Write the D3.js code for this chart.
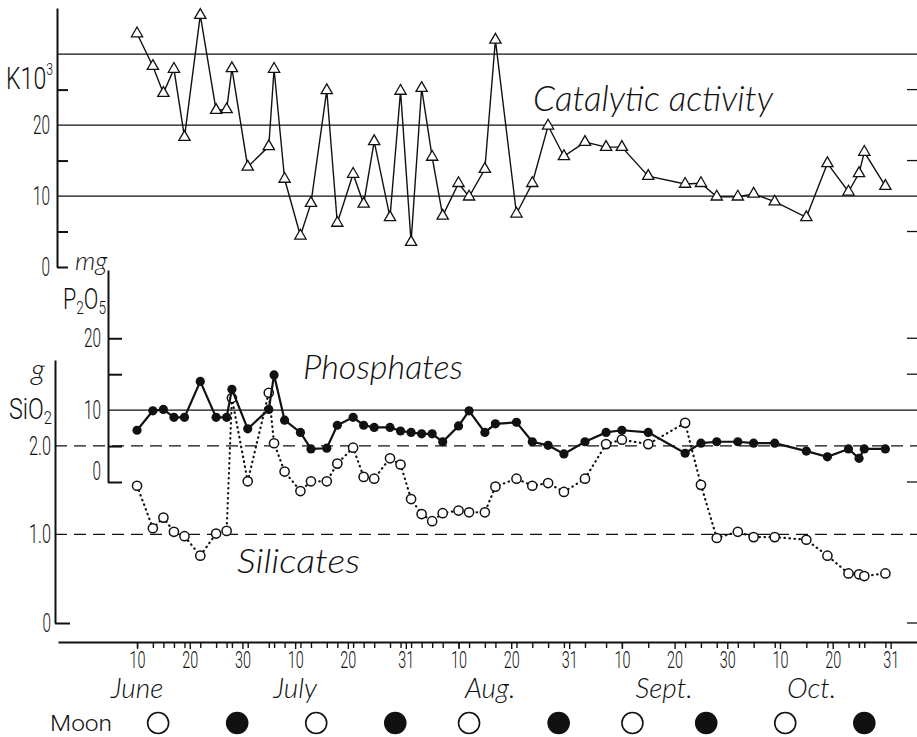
<!DOCTYPE html>
<html>
<head>
<meta charset="utf-8">
<script src="https://cdn.jsdelivr.net/npm/d3@7"></script>
<style>
  body { margin: 0; background: #fff; }
  svg { display: block; }
  .num { font-family: Roboto, "DejaVu Sans Condensed", sans-serif; font-weight: 300; fill: #111; }
  .script { font-family: Lato, "Open Sans", sans-serif; font-style: italic; font-weight: 300; fill: #111; }
</style>
</head>
<body>
<div id="wrapper"></div>
<script>
/* global d3 */

// sampling days (month-day), shared by the three series
const sampleDates = [
  "06-10", "06-13", "06-15", "06-17", "06-19", "06-22", "06-25", "06-27", "06-28", "07-01",
  "07-05", "07-06", "07-08", "07-11", "07-13", "07-16", "07-18", "07-21", "07-23", "07-25",
  "07-28", "07-30", "08-01", "08-03", "08-05", "08-07", "08-10", "08-12", "08-15", "08-17",
  "08-21", "08-24", "08-27", "08-30", "09-03", "09-07", "09-10", "09-15", "09-22", "09-25",
  "09-28", "10-02", "10-05", "10-09", "10-15", "10-19", "10-23", "10-25", "10-26", "10-30",
];

// catalytic activity, K·10³
const catalytic = [
  32.9, 28.3, 24.5, 27.9, 18.3, 35.5, 22.1, 22.2, 28.0, 14.1,
  17.0, 27.9, 12.4, 4.4, 9.0, 24.9, 6.2, 13.1, 8.9, 17.7,
  7.0, 24.8, 3.5, 25.2, 15.5, 7.2, 11.8, 9.9, 13.8, 32.0,
  7.5, 11.8, 19.9, 15.6, 17.6, 16.9, 16.9, 12.8, 11.7, 11.8,
  9.9, 9.9, 10.3, 9.2, 7.0, 14.6, 10.6, 13.2, 16.2, 11.4,
];

// phosphates, mg P2O5
const phosphates = [
  7.2, 9.9, 10.1, 9.0, 9.0, 14.0, 9.0, 9.0, 12.9, 7.4,
  10.1, 14.9, 8.6, 6.9, 4.6, 4.7, 7.9, 9.0, 7.9, 7.6,
  7.6, 7.1, 6.9, 6.7, 6.7, 5.6, 7.8, 9.9, 6.9, 8.1,
  8.3, 5.6, 5.1, 3.9, 5.6, 6.9, 7.2, 6.9, 4.0, 5.4,
  5.6, 5.6, 5.4, 5.4, 4.3, 3.5, 4.6, 3.3, 4.6, 4.6,
];

// silicates, g SiO2
const silicates = [
  1.55, 1.07, 1.19, 1.03, 0.98, 0.76, 1.01, 1.04, 2.54, 1.60,
  2.60, 2.03, 1.71, 1.49, 1.60, 1.60, 1.80, 1.98, 1.65, 1.63,
  1.86, 1.79, 1.40, 1.23, 1.15, 1.24, 1.27, 1.25, 1.25, 1.54,
  1.63, 1.55, 1.58, 1.48, 1.63, 2.02, 2.07, 2.02, 2.26, 1.56,
  0.96, 1.03, 0.97, 0.97, 0.94, 0.76, 0.56, 0.55, 0.53, 0.56,
];

const fullMoons = ["06-14", "07-14", "08-12", "09-12", "10-11"];
const newMoons = ["06-29", "07-29", "08-29", "09-26", "10-26"];

const dayTicks = [
  "06-10", "06-20", "06-30", "07-10", "07-20", "07-31", "08-10", "08-20",
  "08-31", "09-10", "09-20", "09-30", "10-10", "10-20", "10-31",
];
const months = ["June", "July", "Aug.", "Sept.", "Oct."];
const monthCentres = ["06-10", "07-10", "08-16", "09-18", "10-16"];

const kLabels = [0, 10, 20];
const kMinor = [0, 5, 15, 25];
const kGrid = [10, 20, 30];
const pLabels = [0, 10, 20];
const pMinor = [0, 5, 15, 20];
const pGrid = [10];
const sLabels = [0, 1, 2];
const sGrid = [1, 2];

const drawChart = () => {
  const parseDay = d3.timeParse("%m-%d");
  const dimensions = {
    width: 917,
    height: 737,
    kAxis: 57,
    pAxis: 108,
    sAxis: 55,
    right: 917,
    xAxisY: 642,
    moonY: 723,
  };

  const rows = sampleDates.map((d, i) => ({
    date: parseDay(d),
    k: catalytic[i],
    p: phosphates[i],
    s: silicates[i],
  }));

  const xScale = d3
    .scaleTime()
    .domain([parseDay("05-26"), parseDay("11-05")])
    .range([58, dimensions.right]);
  const kScale = d3.scaleLinear().domain([0, 36.5]).range([267, 8]);
  const pScale = d3.scaleLinear().domain([0, 29.5]).range([482, 270]);
  const sScale = d3.scaleLinear().domain([0, 2.97]).range([623, 360]);

  const wrapper = d3
    .select("#wrapper")
    .append("svg")
    .attr("width", dimensions.width)
    .attr("height", dimensions.height);

  const ink = "#111";

  // condensed tick numbers
  const squeeze = (sel, perChar, size) =>
    sel
      .attr("class", "num")
      .style("font-size", `${size}px`)
      .attr("textLength", function () {
        const t = this.textContent;
        return t.replace(".", "").length * perChar + (t.includes(".") ? 5 : 0);
      })
      .attr("lengthAdjust", "spacingAndGlyphs");

  // ---- grid lines
  wrapper
    .append("g")
    .selectAll("line")
    .data(kGrid)
    .join("line")
    .attr("x1", dimensions.kAxis)
    .attr("x2", dimensions.right)
    .attr("y1", (d) => kScale(d))
    .attr("y2", (d) => kScale(d))
    .attr("stroke", ink)
    .attr("stroke-width", 1.3);

  wrapper
    .append("g")
    .selectAll("line")
    .data(pGrid)
    .join("line")
    .attr("x1", dimensions.pAxis)
    .attr("x2", dimensions.right)
    .attr("y1", (d) => pScale(d))
    .attr("y2", (d) => pScale(d))
    .attr("stroke", ink)
    .attr("stroke-width", 1.3);

  wrapper
    .append("g")
    .selectAll("line")
    .data(sGrid)
    .join("line")
    .attr("x1", dimensions.sAxis)
    .attr("x2", dimensions.right)
    .attr("y1", (d) => sScale(d))
    .attr("y2", (d) => sScale(d))
    .attr("stroke", ink)
    .attr("stroke-width", 1.3)
    .attr("stroke-dasharray", "12,7");

  // right-hand edge ticks
  const edgeTicks = [
    ...[5, 15, 25].map((v) => kScale(v)),
    ...[0, 15, 20].map((v) => pScale(v)),
    sScale(0),
  ];
  wrapper
    .append("g")
    .selectAll("line")
    .data(edgeTicks)
    .join("line")
    .attr("x1", dimensions.right - 10)
    .attr("x2", dimensions.right)
    .attr("y1", (d) => d)
    .attr("y2", (d) => d)
    .attr("stroke", ink)
    .attr("stroke-width", 1.3);

  // ---- vertical axes
  const styleAxis = (g, w) => {
    g.selectAll("path, line").attr("stroke", ink).attr("stroke-width", w);
    g.selectAll("text").remove();
  };

  wrapper
    .append("g")
    .attr("transform", `translate(${dimensions.kAxis},0)`)
    .call(d3.axisRight(kScale).tickValues(kMinor).tickSize(11).tickSizeOuter(0))
    .call(styleAxis, 2);

  wrapper
    .append("g")
    .attr("transform", `translate(${dimensions.pAxis},0)`)
    .call(d3.axisRight(pScale).tickValues(pMinor).tickSize(14).tickSizeOuter(0))
    .call(styleAxis, 2);

  wrapper
    .append("g")
    .attr("transform", `translate(${dimensions.sAxis},0)`)
    .call(d3.axisRight(sScale).tickValues([0]).tickSize(15).tickSizeOuter(0))
    .call(styleAxis, 2);

  // tick labels
  const labelAxis = (g) => {
    g.select(".domain").remove();
    g.selectAll("line").remove();
    g.selectAll("text").attr("fill", ink).call(squeeze, 8.5, 26);
  };

  wrapper
    .append("g")
    .attr("transform", `translate(${dimensions.kAxis},0)`)
    .call(d3.axisLeft(kScale).tickValues(kLabels).tickSize(0).tickPadding(7))
    .call(labelAxis);

  wrapper
    .append("g")
    .attr("transform", `translate(${dimensions.pAxis},0)`)
    .call(d3.axisLeft(pScale).tickValues(pLabels).tickSize(0).tickPadding(7))
    .call(labelAxis)
    .selectAll("text")
    .filter((d) => d === 0)
    .attr("dy", "-0.1em");

  wrapper
    .append("g")
    .attr("transform", `translate(${dimensions.sAxis},0)`)
    .call(
      d3
        .axisLeft(sScale)
        .tickValues(sLabels)
        .tickSize(0)
        .tickPadding(4)
        .tickFormat((d) => (d === 0 ? "0" : d.toFixed(1)))
    )
    .call(labelAxis);

  // unit labels
  const kUnit = wrapper
    .append("text")
    .attr("class", "num")
    .attr("x", 6)
    .attr("y", kScale(30) + 35)
    .style("font-size", "32px")
    .attr("fill", ink)
    .attr("textLength", 47)
    .attr("lengthAdjust", "spacingAndGlyphs");
  kUnit.append("tspan").text("K10");
  kUnit.append("tspan").text("3").attr("dy", -14).style("font-size", "17px");

  wrapper
    .append("text")
    .attr("class", "script")
    .attr("x", 75)
    .attr("y", 270)
    .style("font-size", "26px")
    .text("mg");

  const pUnit = wrapper
    .append("text")
    .attr("class", "num")
    .attr("x", 63)
    .attr("y", 309)
    .style("font-size", "30px")
    .attr("fill", ink)
    .attr("textLength", 43)
    .attr("lengthAdjust", "spacingAndGlyphs");
  pUnit.append("tspan").text("P");
  pUnit.append("tspan").text("2").attr("dy", 5).style("font-size", "19px");
  pUnit.append("tspan").text("O").attr("dy", -5);
  pUnit.append("tspan").text("5").attr("dy", 5).style("font-size", "19px");

  wrapper
    .append("text")
    .attr("class", "script")
    .attr("x", 31)
    .attr("y", 380)
    .style("font-size", "30px")
    .text("g");

  const sUnit = wrapper
    .append("text")
    .attr("class", "num")
    .attr("x", 9)
    .attr("y", 419)
    .style("font-size", "30px")
    .attr("fill", ink)
    .attr("textLength", 43)
    .attr("lengthAdjust", "spacingAndGlyphs");
  sUnit.append("tspan").text("SiO");
  sUnit.append("tspan").text("2").attr("dy", 5).style("font-size", "19px");

  // ---- x axis
  const xAxisGroup = wrapper
    .append("g")
    .attr("transform", `translate(0,${dimensions.xAxisY})`);

  xAxisGroup
    .append("g")
    .call(
      d3
        .axisBottom(xScale)
        .tickValues(rows.map((d) => d.date))
        .tickSize(6)
        .tickSizeOuter(0)
        .tickFormat("")
    )
    .call((g) => g.selectAll("path, line").attr("stroke", ink).attr("stroke-width", 1.4))
    .call((g) => g.select(".domain").attr("stroke-width", 2.2));

  xAxisGroup
    .append("g")
    .call(
      d3
        .axisBottom(xScale)
        .tickValues(dayTicks.map(parseDay))
        .tickSize(7)
        .tickPadding(3)
        .tickFormat(d3.timeFormat("%-d"))
    )
    .call((g) => g.select(".domain").remove())
    .call((g) => g.selectAll("line").attr("stroke", ink).attr("stroke-width", 1.4))
    .call((g) => g.selectAll("text").attr("fill", ink).call(squeeze, 8, 23));

  wrapper
    .append("g")
    .selectAll("text")
    .data(months)
    .join("text")
    .attr("class", "script")
    .attr("x", (d, i) => xScale(parseDay(monthCentres[i])))
    .attr("y", 698)
    .attr("text-anchor", "middle")
    .style("font-size", "28px")
    .text((d) => d);

  // ---- moon phases
  wrapper
    .append("text")
    .attr("class", "num")
    .attr("x", 50)
    .attr("y", 731)
    .style("font-size", "22px")
    .attr("fill", ink)
    .attr("textLength", 62)
    .attr("lengthAdjust", "spacingAndGlyphs")
    .text("Moon");

  const moons = [
    ...fullMoons.map((d) => ({ date: parseDay(d), full: true })),
    ...newMoons.map((d) => ({ date: parseDay(d), full: false })),
  ];
  wrapper
    .append("g")
    .selectAll("circle")
    .data(moons)
    .join("circle")
    .attr("cx", (d) => xScale(d.date))
    .attr("cy", dimensions.moonY)
    .attr("r", 10.5)
    .attr("fill", (d) => (d.full ? "#fff" : ink))
    .attr("stroke", ink)
    .attr("stroke-width", 1.6);

  // ---- series
  const kLine = d3
    .line()
    .x((d) => xScale(d.date))
    .y((d) => kScale(d.k));
  wrapper
    .append("path")
    .attr("d", kLine(rows))
    .attr("fill", "none")
    .attr("stroke", ink)
    .attr("stroke-width", 1.4);
  wrapper
    .append("g")
    .selectAll("path")
    .data(rows)
    .join("path")
    .attr("transform", (d) => `translate(${xScale(d.date)},${kScale(d.k)})`)
    .attr("d", d3.symbol(d3.symbolTriangle, 55))
    .attr("fill", "#fff")
    .attr("stroke", ink)
    .attr("stroke-width", 1.3);

  const sLine = d3
    .line()
    .x((d) => xScale(d.date))
    .y((d) => sScale(d.s));
  wrapper
    .append("path")
    .attr("d", sLine(rows))
    .attr("fill", "none")
    .attr("stroke", ink)
    .attr("stroke-width", 2.2)
    .attr("stroke-linecap", "round")
    .attr("stroke-dasharray", "0.5,4.5");
  wrapper
    .append("g")
    .selectAll("circle")
    .data(rows)
    .join("circle")
    .attr("cx", (d) => xScale(d.date))
    .attr("cy", (d) => sScale(d.s))
    .attr("r", 4.6)
    .attr("fill", "#fff")
    .attr("stroke", ink)
    .attr("stroke-width", 1.5);

  const pLine = d3
    .line()
    .x((d) => xScale(d.date))
    .y((d) => pScale(d.p));
  wrapper
    .append("path")
    .attr("d", pLine(rows))
    .attr("fill", "none")
    .attr("stroke", ink)
    .attr("stroke-width", 2.2);
  wrapper
    .append("g")
    .selectAll("circle")
    .data(rows)
    .join("circle")
    .attr("cx", (d) => xScale(d.date))
    .attr("cy", (d) => pScale(d.p))
    .attr("r", 4.6)
    .attr("fill", ink);

  // ---- series titles
  const titles = [
    { text: "Catalytic activity", x: 533, y: 111, len: 240, size: 36 },
    { text: "Phosphates", x: 303, y: 379, len: 160, size: 33 },
    { text: "Silicates", x: 237, y: 573, len: 123, size: 33 },
  ];
  wrapper
    .append("g")
    .selectAll("text")
    .data(titles)
    .join("text")
    .attr("class", "script")
    .attr("x", (d) => d.x)
    .attr("y", (d) => d.y)
    .attr("textLength", (d) => d.len)
    .attr("lengthAdjust", "spacingAndGlyphs")
    .style("font-size", (d) => `${d.size}px`)
    .text((d) => d.text);
};

drawChart();
</script>
</body>
</html>
